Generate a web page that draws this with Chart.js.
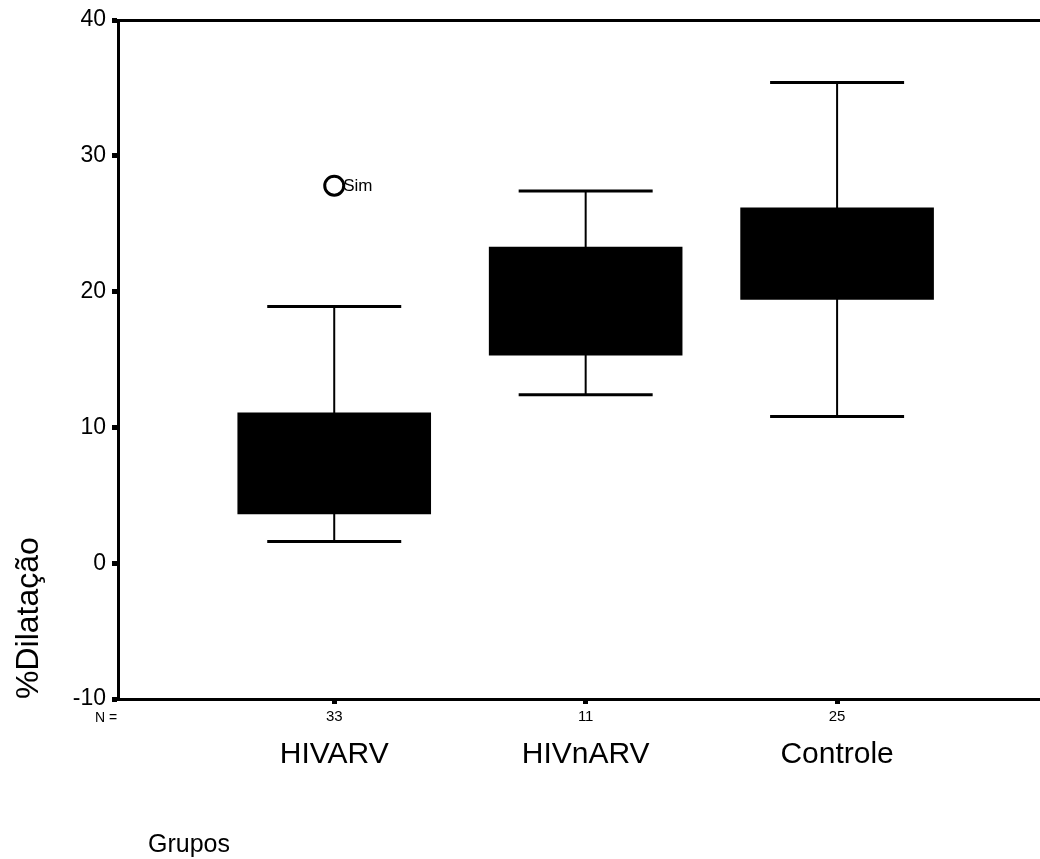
<!DOCTYPE html>
<html>
<head>
<meta charset="utf-8">
<script src="https://cdn.jsdelivr.net/npm/chart.js@4/dist/chart.umd.min.js"></script>
<style>
  body { margin: 0; background: #fff; overflow: hidden; }
</style>
</head>
<body>
<canvas id="box-chart" width="1040" height="859"></canvas>
<script>
const groups = ['HIVARV', 'HIVnARV', 'Controle'];
const groupN = ['33', '11', '25'];
const whiskerLow = [1.6, 12.4, 10.8];
const boxLow = [3.6, 15.3, 19.4];
const boxHigh = [11.1, 23.3, 26.2];
const whiskerHigh = [18.9, 27.4, 35.4];
const outliers = [{ group: 0, value: 27.8, label: 'Sim' }];
const yTicks = [-10, 0, 10, 20, 30, 40];

const FONT = "'Liberation Sans', Arial, Helvetica, sans-serif";
const xMin = -0.86, xMax = 2.807;

const stems = groups.map((g, i) => ({ x: i, y: [whiskerLow[i], whiskerHigh[i]] }));
const boxes = groups.map((g, i) => ({ x: i, y: [boxLow[i], boxHigh[i]] }));
const caps = [];
groups.forEach((g, i) => {
  caps.push({ x: i, y: whiskerLow[i] });
  caps.push({ x: i, y: whiskerHigh[i] });
});
const outlierPts = outliers.map(o => ({ x: o.group, y: o.value }));

const onlyGroups = scale => {
  scale.ticks = groups.map((g, i) => ({ value: i }));
};

const textPlugin = {
  id: 'boxText',
  afterDraw(chart) {
    const ctx = chart.ctx;
    ctx.save();
    ctx.fillStyle = '#000';
    // outlier labels
    const meta = chart.getDatasetMeta(3);
    ctx.font = '17px ' + FONT;
    ctx.textBaseline = 'middle';
    ctx.textAlign = 'left';
    meta.data.forEach((pt, i) => {
      ctx.fillText(outliers[i].label, pt.x + 9, pt.y + 1);
    });
    // "N =" in front of the counts
    const xs = chart.scales.x;
    ctx.font = '14px ' + FONT;
    ctx.fillText('N =', xs.left - 23, 718);
    // group axis title
    ctx.font = '25px ' + FONT;
    ctx.fillText('Grupos', 148, 845);
    ctx.restore();
  }
};

new Chart(document.getElementById('box-chart'), {
  type: 'bar',
  data: {
    datasets: [
      {
        label: 'whisker',
        data: stems,
        backgroundColor: '#000',
        maxBarThickness: 2,
        grouped: false,
        order: 4,
      },
      {
        label: 'box',
        data: boxes,
        backgroundColor: '#000',
        borderWidth: 0,
        barPercentage: 0.77,
        categoryPercentage: 1,
        grouped: false,
        order: 3,
      },
      {
        type: 'scatter',
        label: 'caps',
        data: caps,
        pointStyle: 'line',
        pointRadius: 67,
        borderColor: '#000',
        borderWidth: 3,
        order: 2,
      },
      {
        type: 'scatter',
        label: 'outlier',
        data: outlierPts,
        pointStyle: 'circle',
        pointRadius: 9.5,
        borderColor: '#000',
        backgroundColor: '#fff',
        borderWidth: 3,
        order: 1,
      },
    ],
  },
  options: {
    responsive: false,
    animation: false,
    layout: { autoPadding: false, padding: 0 },
    plugins: {
      legend: { display: false },
      tooltip: { enabled: false },
    },
    scales: {
      x: {
        type: 'linear',
        position: 'bottom',
        weight: 0,
        min: xMin,
        max: xMax,
        offset: false,
        afterBuildTicks: onlyGroups,
        afterFit: s => { s.height = 30; },
        border: { display: true, color: '#000', width: 3 },
        grid: { offset: false, drawOnChartArea: false, color: '#000', tickLength: 5, tickWidth: 5 },
        ticks: {
          color: '#000',
          font: { family: FONT, size: 15 },
          padding: 4,
          maxRotation: 0,
          autoSkip: false,
          callback: v => groupN[v],
        },
      },
      x2: {
        type: 'linear',
        position: 'bottom',
        weight: 1,
        min: xMin,
        max: xMax,
        offset: false,
        afterBuildTicks: onlyGroups,
        afterFit: s => { s.height = 130; },
        border: { display: false },
        grid: { display: false, drawTicks: false },
        ticks: {
          color: '#000',
          font: { family: FONT, size: 30 },
          padding: 8,
          maxRotation: 0,
          autoSkip: false,
          callback: v => groups[v],
        },
      },
      xTop: {
        type: 'linear',
        position: 'top',
        min: xMin,
        max: xMax,
        afterFit: s => { s.height = 20; },
        border: { display: true, color: '#000', width: 3 },
        grid: { drawOnChartArea: false, drawTicks: false },
        ticks: { display: false },
      },
      y: {
        min: -10,
        max: 40,
        afterBuildTicks: s => { s.ticks = yTicks.map(v => ({ value: v })); },
        afterFit: s => { s.width = 118; },
        border: { display: true, color: '#000', width: 3 },
        grid: { drawOnChartArea: false, color: '#000', tickLength: 6, tickWidth: 5 },
        ticks: {
          color: '#000',
          font: { family: FONT, size: 23 },
          padding: 6,
        },
        title: {
          display: true,
          text: '%Dilatação',
          align: 'start',
          color: '#000',
          font: { family: FONT, size: 32 },
          padding: { top: 10, bottom: 0 },
        },
      },
    },
  },
  plugins: [textPlugin],
});
</script>
</body>
</html>
